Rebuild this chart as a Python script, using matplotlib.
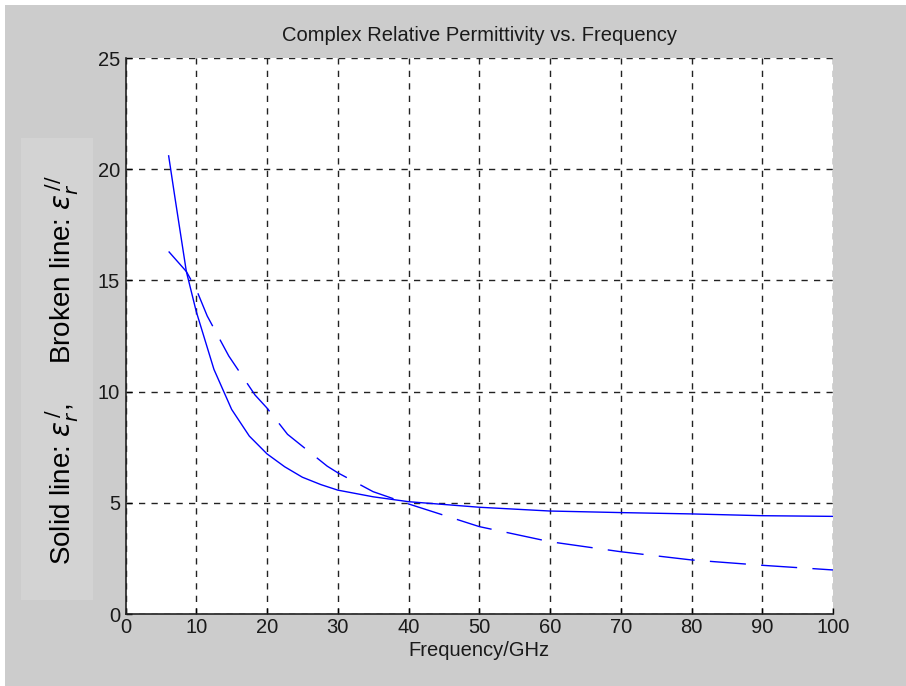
import matplotlib
matplotlib.use("Agg")
import matplotlib.pyplot as plt
from matplotlib.patches import Rectangle

# values
freq_solid = [6.1, 7.0, 8.6, 10, 12.5, 15, 17.5, 20, 22.5, 25, 27.6, 30, 35, 40, 50, 60, 70, 80, 90, 100]
eps_solid = [20.6, 18.7, 15.4, 13.6, 11.0, 9.2, 8.0, 7.2, 6.62, 6.15, 5.82, 5.57, 5.27, 5.05, 4.8, 4.63, 4.56, 4.5, 4.42, 4.39]

freq_broken = [6.1, 8.6, 10, 11.55, 14.6, 18.3, 20, 22.9, 28.5, 30, 35, 40, 50, 60, 70, 80, 90, 100]
eps_broken = [16.3, 15.4, 14.6, 13.4, 11.6, 9.85, 9.26, 8.08, 6.65, 6.35, 5.5, 4.95, 3.93, 3.25, 2.8, 2.43, 2.19, 1.98]

x_ticks = list(range(0, 101, 10))
y_ticks = list(range(0, 26, 5))

plt.rcParams['font.family'] = ['Liberation Sans', 'DejaVu Sans']
plt.rcParams['mathtext.fontset'] = 'dejavusans'

fig = plt.figure(figsize=(9.06, 6.86), dpi=100, facecolor='white')
# grey window background with thin white strip at top/left
fig.patches.append(Rectangle((5 / 906, 0), 1, 1 - 5 / 686, transform=fig.transFigure,
                             facecolor='#cccccc', edgecolor='none', zorder=-3))
# lighter box behind the y label
fig.patches.append(Rectangle((21 / 906, 1 - 600 / 686), 72 / 906, 462 / 686, transform=fig.transFigure,
                             facecolor='#d3d3d3', edgecolor='none', zorder=-2))

ax = fig.add_axes([125.5 / 906, 1 - 614 / 686, 707.5 / 906, 556 / 686])
ax.set_facecolor('white')

ax.plot(freq_solid, eps_solid, color='#0000ff', lw=1.0)
ax.plot(freq_broken, eps_broken, color='#0000ff', lw=1.0, dashes=(26, 11))

ax.set_xlim(0, 100)
ax.set_ylim(0, 25)
ax.set_xticks(x_ticks)
ax.set_yticks(y_ticks)
ax.grid(True, color='#222222', linestyle=(0, (4.5, 4.5)), linewidth=1.0)
ax.tick_params(direction='in', length=4, width=1, labelsize=14.5, colors='black', pad=3)
ax.tick_params(axis='y', pad=4)
ax.tick_params(labelcolor='#1a1a1a')
for s in ['top', 'right']:
    ax.spines[s].set_visible(False)
for s in ['left', 'bottom']:
    ax.spines[s].set_linewidth(1.2)
    ax.spines[s].set_color('#222222')

ax.set_title('Complex Relative Permittivity vs. Frequency', fontsize=14.5, pad=12, color='#1a1a1a')
ax.set_xlabel('Frequency/GHz', fontsize=14.5, labelpad=3, color='#1a1a1a')

fig.text(62 / 906, 1 - 370 / 686,
         r'Solid line: $\varepsilon_r^{\,/}$,     Broken line: $\varepsilon_r^{\,//}$',
         rotation=90, fontsize=20, ha='center', va='center')

fig.savefig('out.png', dpi=100, facecolor=fig.get_facecolor())
